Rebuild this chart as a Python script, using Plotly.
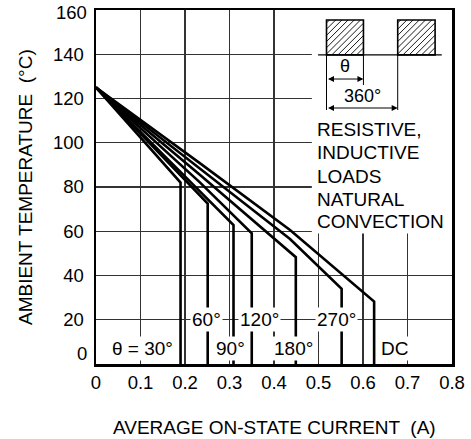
import plotly.graph_objects as go

# ---- data ----
curve_names = ["θ = 30°", "60°", "90°", "120°", "180°", "270°", "DC"]
i_30 = [0.0, 0.19]
t_30 = [125, 82]
i_60 = [0.0, 0.251]
t_60 = [125, 72.5]
i_90 = [0.0, 0.309]
t_90 = [125, 62.8]
i_120 = [0.0, 0.234, 0.350]
t_120 = [125, 82, 59.1]
i_180 = [0.0, 0.234, 0.449]
t_180 = [125, 85.4, 48.3]
i_270 = [0.0, 0.234, 0.436, 0.552]
t_270 = [125, 88.4, 56.5, 34]
i_dc = [0.0, 0.234, 0.436, 0.625]
t_dc = [125, 90.7, 60.6, 28.2]

x_ticks = [0, 0.1, 0.2, 0.3, 0.4, 0.5, 0.6, 0.7, 0.8]
x_tick_text = ["0", "0.1", "0.2", "0.3", "0.4", "0.5", "0.6", "0.7", "0.8"]
y_ticks = [0, 20, 40, 60, 80, 100, 120, 140, 160]
y_tick_text = ["", "20", "40", "60", "80", "100", "120", "140", ""]

# label positions (current, temperature)
label_text = ["θ = 30°", "60°", "90°", "120°", "180°", "270°", "DC"]
label_x = [0.104, 0.249, 0.303, 0.3685, 0.4434, 0.541, 0.6697]
label_y = [7.1, 19.9, 7.1, 19.9, 7.1, 19.9, 7.1]

note_lines = ["RESISTIVE,", "INDUCTIVE", "LOADS", "NATURAL", "CONVECTION"]
note_y = [105.8, 95.4, 84.7, 74.4, 64.3]

FONT = "Liberation Sans, Arial, sans-serif"

fig = go.Figure()
series = [(i_30, t_30), (i_60, t_60), (i_90, t_90), (i_120, t_120),
          (i_180, t_180), (i_270, t_270), (i_dc, t_dc)]
for name, (xs, ys) in zip(curve_names, series):
    fig.add_trace(go.Scatter(
        x=list(xs) + [xs[-1]], y=list(ys) + [0], mode="lines", name=name,
        line=dict(color="black", width=2.6), showlegend=False,
        hoverinfo="skip"))

# pixel scale of the plot area (for the little pulse diagram)
PX_X = 445.0   # pixels per A
PX_Y = 2.2125  # pixels per degC

shapes = []
# white box behind the note text (hides grid)
shapes.append(dict(type="rect", xref="x", yref="y", x0=0.485, x1=0.8, y0=59.0, y1=160,
                   fillcolor="white", line=dict(width=0), layer="between"))

# pulse diagram
base_y = 139.7
top_y = 155.5
rects = [(0.518, 0.601), (0.678, 0.762)]
shapes.append(dict(type="line", xref="x", yref="y", x0=0.499, x1=0.777, y0=base_y, y1=base_y,
                   line=dict(color="black", width=1.3)))
for (rx0, rx1) in rects:
    shapes.append(dict(type="rect", xref="x", yref="y", x0=rx0, x1=rx1, y0=base_y, y1=top_y,
                       line=dict(color="black", width=1.6), fillcolor="rgba(0,0,0,0)"))
    w = (rx1 - rx0) * PX_X
    h = (top_y - base_y) * PX_Y
    k = -h + 3
    while k < w:
        u0, v0 = max(k, 0), max(-k, 0)
        u1, v1 = min(w, h + k), min(h, w - k)
        shapes.append(dict(type="line", xref="x", yref="y",
                           x0=rx0 + u0 / PX_X, y0=base_y + v0 / PX_Y,
                           x1=rx0 + u1 / PX_X, y1=base_y + v1 / PX_Y,
                           line=dict(color="black", width=0.9)))
        k += 6.2
# dimension lines
shapes.append(dict(type="line", xref="x", yref="y", x0=0.518, x1=0.518, y0=base_y, y1=114.8,
                   line=dict(color="black", width=1)))
shapes.append(dict(type="line", xref="x", yref="y", x0=0.601, x1=0.601, y0=base_y, y1=126.1,
                   line=dict(color="black", width=1)))
shapes.append(dict(type="line", xref="x", yref="y", x0=0.678, x1=0.678, y0=base_y, y1=114.8,
                   line=dict(color="black", width=1)))

annotations = []
# double arrows
for (ax0, ax1, ay) in [(0.518, 0.601, 128.8), (0.518, 0.678, 115.7)]:
    annotations.append(dict(x=ax1, y=ay, ax=ax0, ay=ay, xref="x", yref="y", axref="x", ayref="y",
                            showarrow=True, arrowside="end+start", arrowhead=2,
                            arrowsize=1.2, arrowwidth=1, arrowcolor="black", text=""))
annotations.append(dict(x=0.56, y=134.7, xref="x", yref="y", text="θ", showarrow=False,
                        font=dict(family=FONT, size=18, color="black")))
annotations.append(dict(x=0.598, y=121.0, xref="x", yref="y", text="360°", showarrow=False,
                        font=dict(family=FONT, size=18, color="black")))

for t, y in zip(note_lines, note_y):
    annotations.append(dict(x=0.492, y=y, xref="x", yref="y", text=t, showarrow=False,
                            xanchor="left", yanchor="middle",
                            font=dict(family=FONT, size=19, color="black")))

for t, x, y in zip(label_text, label_x, label_y):
    annotations.append(dict(x=x, y=y, xref="x", yref="y", text=t, showarrow=False,
                            bgcolor="white", borderpad=1,
                            font=dict(family=FONT, size=19, color="black")))

# y "0" and "160" tick labels (offset as in the reference)
annotations.append(dict(x=0, y=0, xref="paper", yref="y", text="0", showarrow=False,
                        xanchor="right", yanchor="middle", xshift=-7, yshift=11,
                        font=dict(family=FONT, size=18.5, color="black")))
annotations.append(dict(x=0, y=160, xref="paper", yref="y", text="160", showarrow=False,
                        xanchor="right", yanchor="middle", xshift=-7, yshift=-2,
                        font=dict(family=FONT, size=18.5, color="black")))

# axis titles
annotations.append(dict(x=0.5, y=0, xref="paper", yref="paper", text="AVERAGE ON-STATE CURRENT  (A)",
                        showarrow=False, xanchor="center", yanchor="middle", yshift=-63,
                        font=dict(family=FONT, size=19, color="black")))
annotations.append(dict(x=0, y=0.5, xref="paper", yref="paper", text="AMBIENT TEMPERATURE  (°C)",
                        showarrow=False, xanchor="center", yanchor="middle", xshift=-71,
                        textangle=-90, font=dict(family=FONT, size=19, color="black")))

fig.update_layout(
    width=471, height=439,
    margin=dict(l=96, r=19, t=10, b=75, autoexpand=False),
    paper_bgcolor="white", plot_bgcolor="white",
    shapes=shapes, annotations=annotations,
    font=dict(family=FONT, color="black"),
    hovermode=False,
)
fig.update_xaxes(range=[0, 0.8], tickvals=x_ticks, ticktext=x_tick_text,
                 showgrid=True, gridcolor="#333", gridwidth=1.4, zeroline=False,
                 showline=True, mirror=True, linecolor="black", linewidth=2.5,
                 ticks="", ticklabelstandoff=0, automargin=False,
                 tickfont=dict(family=FONT, size=18.5, color="black"))
fig.update_yaxes(range=[0, 160], tickvals=y_ticks, ticktext=y_tick_text,
                 showgrid=True, gridcolor="#333", gridwidth=1.4, zeroline=False,
                 showline=True, mirror=True, linecolor="black", linewidth=2.5,
                 ticks="", ticklabelstandoff=6, automargin=False,
                 tickfont=dict(family=FONT, size=18.5, color="black"))

# remove the browser's default page margin so the figure fills the window exactly
fig.write_html("out.html", config={"displayModeBar": False, "staticPlot": True},
               post_script="document.body.style.margin='0';")
